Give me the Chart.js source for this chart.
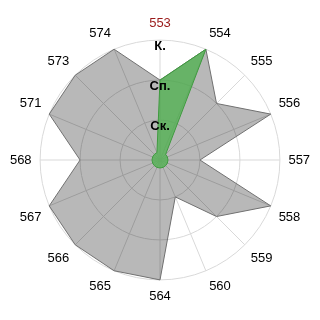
<!DOCTYPE html>
<html>
<head>
<meta charset="utf-8">
<script src="https://cdn.jsdelivr.net/npm/chart.js@4"></script>
<style>
  html, body { margin: 0; padding: 0; background: #fff; }
  #wrap { width: 320px; height: 320px; }
</style>
</head>
<body>
<div id="wrap"><canvas id="radar-chart"></canvas></div>
<script>
// DATA //

const categories = ["553", "554", "555", "556", "557", "558", "559", "560",
                    "564", "565", "566", "567", "568", "571", "573", "574"];
const grayValues  = [2, 3, 2, 3, 1, 3, 2, 1, 3, 3, 3, 3, 2, 3, 3, 3];
const greenValues = [2, 3, 0.2, 0.2, 0.2, 0.2, 0.2, 0.2, 0.2, 0.2, 0.2, 0.2, 0.2, 0.2, 0.2, 0.2];
const tickNames = ["", "Ск.", "Сп.", "К."];

// RADAR CHART //

const radarCanvas = document.getElementById("radar-chart");

const radarData = {
    labels: categories,
    datasets: [{
        data: greenValues,
        backgroundColor: 'rgba(82, 178, 82, 0.8)',
        borderColor: '#3f9a3f',
        borderWidth: 1,
        pointRadius: 0,
        fill: true
    }, {
        data: grayValues,
        backgroundColor: 'rgba(0, 0, 0, 0.28)',
        borderColor: '#707070',
        borderWidth: 1,
        pointRadius: 0,
        fill: true
    }]
};

const radarOptions = {
    responsive: true,
    maintainAspectRatio: false,
    animation: false,
    layout: {
        padding: { top: 17, bottom: 15, left: 0, right: 0 }
    },
    scales: {
        r: {
            min: 0,
            max: 3,
            ticks: {
                stepSize: 1,
                z: 1,
                color: '#000',
                showLabelBackdrop: false,
                backdropPadding: 0,
                font: { family: 'Liberation Sans, Arial', size: 13, weight: 'bold', lineHeight: 0.5 },
                callback: (v) => v === 0 ? '' : ['', tickNames[v]]
            },
            grid: {
                circular: true,
                color: '#d9d9d9'
            },
            angleLines: {
                color: '#d9d9d9'
            },
            pointLabels: {
                padding: 2,
                font: { family: 'Liberation Sans, Arial', size: 13 },
                color: (ctx) => ctx.index === 0 ? '#9a1a1a' : '#000'
            }
        }
    },
    plugins: {
        legend: { display: false },
        tooltip: { enabled: false }
    }
};

let radarChart = new Chart(radarCanvas, {
    type: 'radar',
    data: radarData,
    options: radarOptions
});
</script>
</body>
</html>
